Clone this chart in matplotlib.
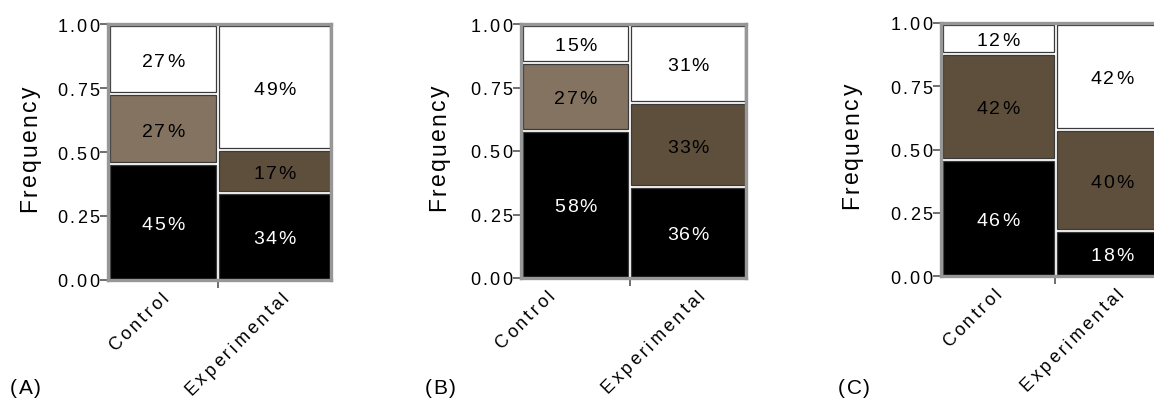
import matplotlib
matplotlib.use("Agg")
import numpy as np
import matplotlib.pyplot as plt
from matplotlib.patches import Rectangle
from matplotlib.font_manager import FontProperties
from matplotlib.transforms import ScaledTranslation, blended_transform_factory

plt.rcParams['font.family'] = ['Liberation Sans', 'DejaVu Sans']

# ---- data -------------------------------------------------------------
groups = ['Control', 'Experimental']
panel_names = ['(A)', '(B)', '(C)']
y_ticks = [0.0, 0.25, 0.50, 0.75, 1.00]
y_tick_labels = ['0.00', '0.25', '0.50', '0.75', '1.00']

# share of subjects in each group (mosaic column widths)
group_share_A = [0.493, 0.507]
group_share_B = [0.484, 0.516]
group_share_C = [0.500, 0.500]

# outcome percentages per group, stacked bottom -> top
control_A = [45, 27, 27]
experimental_A = [34, 17, 49]
control_B = [58, 27, 15]
experimental_B = [36, 33, 31]
control_C = [46, 42, 12]
experimental_C = [18, 40, 42]

# shade of the middle level for each group
middle_shade_A = ['light', 'dark']
middle_shade_B = ['light', 'dark']
middle_shade_C = ['dark', 'dark']

panels = [
    (group_share_A, [control_A, experimental_A], middle_shade_A),
    (group_share_B, [control_B, experimental_B], middle_shade_B),
    (group_share_C, [control_C, experimental_C], middle_shade_C),
]

# ---- style ------------------------------------------------------------
W, H, DPI = 1154, 402, 100
shade_colors = {'light': '#847361', 'dark': '#5e4f3d'}
bottom_color, top_color = '#000000', '#ffffff'
frame_color = '#979797'
edge_color = '#3a3a3a'
gap_px = 3.0

# axes boxes in pixels: left, top, right, bottom
axes_px = [(108, 25, 331, 281), (521, 25, 746, 279), (941, 24, 1169, 277)]
# right end of each rotated group label (axes fraction)
label_ends = [(0.254, 0.793), (0.132, 0.800), (0.250, 0.785)]
ylabel_offset_px = [80, 84, 91]
panel_label_x_px = [10, 425, 838]

fig = plt.figure(figsize=(W / DPI, H / DPI), dpi=DPI)
renderer = fig.canvas.get_renderer()


def spaced_text(x, y, s, transform, size, spacing, rotation=0, ha='left',
                center=True, color='black'):
    """Draw text with extra tracking between characters."""
    fp = FontProperties(family=['Liberation Sans', 'DejaVu Sans'], size=size)

    def width(t):
        if not t:
            return 0.0
        return renderer.get_text_width_height_descent(t, fp, ismath=False)[0]

    offsets = [width(s[:i]) + i * spacing for i in range(len(s))]
    total = width(s) + spacing * (len(s) - 1)
    start = {'left': 0.0, 'center': -total / 2, 'right': -total}[ha]
    th = np.deg2rad(rotation)
    size_px = size * DPI / 72.0
    drop = 0.36 * size_px if center else 0.0
    for ch, off in zip(s, offsets):
        d = start + off
        dx = d * np.cos(th) + drop * np.sin(th)
        dy = d * np.sin(th) - drop * np.cos(th)
        tr = transform + ScaledTranslation(dx / DPI, dy / DPI, fig.dpi_scale_trans)
        fig.text(x, y, ch, transform=tr, fontproperties=fp, rotation=rotation,
                 rotation_mode='anchor', ha='left', va='baseline', color=color)


for k, (shares, columns, shades) in enumerate(panels):
    l, t, r, b = axes_px[k]
    ax = fig.add_axes([l / W, 1 - b / H, (r - l) / W, (b - t) / H])
    ax.set_xlim(0, 1)
    ax.set_ylim(0, 1)
    gx = gap_px / (r - l)
    gy = gap_px / (b - t)

    x0 = 0.0
    for g, (share, vals, shade) in enumerate(zip(shares, columns, shades)):
        vals = np.asarray(vals, dtype=float)
        fr = vals / vals.sum()
        colors = [bottom_color, shade_colors[shade], top_color]
        text_colors = ['white', 'black', 'black']
        y0 = 0.0
        for v, f, c, tc in zip(vals, fr, colors, text_colors):
            rect = Rectangle((x0 + gx / 2, y0 + gy / 2), share - gx, f - gy,
                             facecolor=c, edgecolor=edge_color, linewidth=0.9,
                             zorder=2)
            ax.add_patch(rect)
            spaced_text(x0 + share / 2, y0 + f / 2, f'{int(v)}%', ax.transData,
                        size=14, spacing=1.6, ha='center', color=tc)
            y0 += f
        x0 += share

    # frame and ticks
    for sp in ax.spines.values():
        sp.set_color(frame_color)
        sp.set_linewidth(2.4)
    ax.set_yticks(y_ticks)
    ax.set_yticklabels([])
    ax.set_xticks([shares[0]])
    ax.set_xticklabels([])
    ax.tick_params(axis='both', direction='out', length=6, width=1.2,
                   color='#555555')

    ytr = blended_transform_factory(ax.transAxes, ax.transData)
    for yv, lab in zip(y_ticks, y_tick_labels):
        spaced_text(0, yv, lab, ytr + ScaledTranslation(-9 / DPI, 0, fig.dpi_scale_trans),
                    size=13, spacing=2.2, ha='right')

    # group labels, rotated
    for g, name in enumerate(groups):
        spaced_text(label_ends[k][g], 0, name,
                    ax.transAxes + ScaledTranslation(0, -13 / DPI, fig.dpi_scale_trans),
                    size=13, spacing=3.0, rotation=45, ha='right')

    # y axis title
    spaced_text(0, 0.5, 'Frequency',
                ax.transAxes + ScaledTranslation(-ylabel_offset_px[k] / DPI, 4 / DPI,
                                                 fig.dpi_scale_trans),
                size=16.5, spacing=2.2, rotation=90, ha='center')

    # panel letter
    spaced_text(panel_label_x_px[k] / W, 1 - 387 / H, panel_names[k], fig.transFigure,
                size=15, spacing=1.5, ha='left')

fig.savefig('out.png', dpi=DPI)
